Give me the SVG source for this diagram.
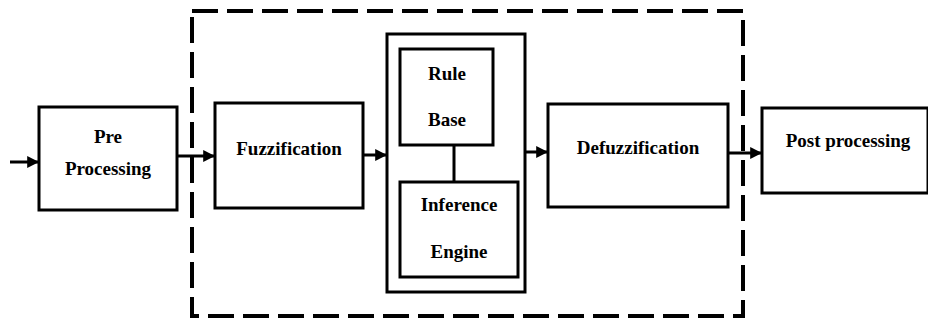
<svg xmlns="http://www.w3.org/2000/svg" width="928" height="326" viewBox="0 0 928 326">
<style>
.box{fill:#fff;stroke:#000;stroke-width:3}
.t{font-family:"Liberation Serif","Times New Roman",serif;font-weight:bold;font-size:19px;fill:#000;text-anchor:middle}
.c{stroke:#000;stroke-width:3;fill:none}
</style>
<defs>
<marker id="ah" viewBox="0 0 10 10" refX="9" refY="5" markerWidth="4" markerHeight="4" orient="auto" markerUnits="strokeWidth">
<path d="M0,0 L10,5 L0,10 z" fill="#000"/>
</marker>
</defs>
<rect width="928" height="326" fill="#fff"/>
<g id="dashed-region">
<rect x="192" y="11" width="551" height="305" fill="none" stroke="#000" stroke-width="4" stroke-dasharray="26 9"/>
</g>
<g id="pre">
<rect class="box" x="39" y="107" width="138" height="103"/>
<text class="t" x="108" y="143">Pre</text>
<text class="t" x="108" y="175">Processing</text>
</g>
<g id="fuzz">
<rect class="box" x="215" y="103" width="148" height="105"/>
<text class="t" x="289" y="155">Fuzzification</text>
</g>
<g id="inference-system">
<rect class="box" x="387" y="34" width="138" height="258"/>
</g>
<g id="rule-base">
<rect class="box" x="400" y="49" width="93" height="96"/>
<text class="t" x="447" y="80">Rule</text>
<text class="t" x="447" y="126">Base</text>
</g>
<g id="inference-engine">
<rect class="box" x="400" y="182" width="118" height="95"/>
<text class="t" x="459" y="211">Inference</text>
<text class="t" x="459" y="258">Engine</text>
</g>
<g id="defuzz">
<rect class="box" x="548" y="104" width="180" height="103"/>
<text class="t" x="638" y="154">Defuzzification</text>
</g>
<g id="post">
<rect class="box" x="762" y="108" width="166" height="85"/>
<text class="t" x="848" y="147">Post processing</text>
</g>
<g id="connectors">
<line class="c" x1="10" y1="162" x2="38" y2="162" marker-end="url(#ah)"/>
<line class="c" x1="177" y1="156" x2="214" y2="156" marker-end="url(#ah)"/>
<line class="c" x1="363" y1="155" x2="386" y2="155" marker-end="url(#ah)"/>
<line class="c" x1="454" y1="145" x2="454" y2="182"/>
<line class="c" x1="525" y1="152" x2="547" y2="152" marker-end="url(#ah)"/>
<line class="c" x1="728" y1="153" x2="761" y2="153" marker-end="url(#ah)"/>
</g>
</svg>
